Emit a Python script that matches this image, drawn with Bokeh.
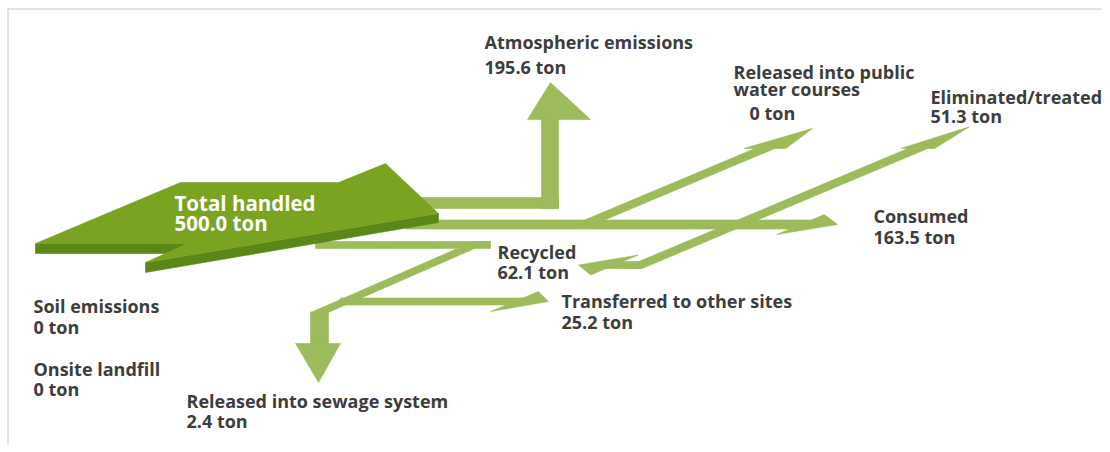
import math
from bokeh.plotting import figure
from bokeh.models import Range1d
from bokeh.core.properties import value
from bokeh.embed import file_html
from bokeh.resources import INLINE

# ---------------- data ----------------
total_name = "Total handled"
total_ton = 500.0
flow_names = ["Atmospheric emissions", "Released into public water courses",
              "Eliminated/treated", "Consumed", "Recycled",
              "Transferred to other sites", "Released into sewage system",
              "Soil emissions", "Onsite landfill"]
flow_tons = [195.6, 0.0, 51.3, 163.5, 62.1, 25.2, 2.4, 0.0, 0.0]
label_lines = [["Atmospheric emissions"], ["Released into public", "water courses"],
               ["Eliminated/treated"], ["Consumed"], ["Recycled"],
               ["Transferred to other sites"], ["Released into sewage system"],
               ["Soil emissions"], ["Onsite landfill"]]


def ton_text(v):
    return "0 ton" if v == 0 else f"{v:.1f} ton"


# ---------------- layout (screen px) ----------------
K = 2.38                      # horizontal px per vertical px along the depth axis
LIGHT = "#9dbb5b"
TOP = "#7ba322"
SIDE = "#5a8717"
TXT = "#3d3d3d"
FONT = "Open Sans"

# label anchors: (x, first baseline, value x, value baseline)
label_pos = {
    "Atmospheric emissions": (484, 41, 484, 66),
    "Released into public water courses": (733, 71, 749, 112),
    "Eliminated/treated": (930, 96, 930, 115),
    "Consumed": (873, 215, 873, 236),
    "Recycled": (497, 251, 497, 271),
    "Transferred to other sites": (561, 300, 561, 321),
    "Released into sewage system": (186, 400, 186, 420),
    "Soil emissions": (33, 305, 33, 326),
    "Onsite landfill": (33, 368, 33, 388),
}
LINE_GAP = 17


def hband(x0, x1, yc, ht, s0=0.0, s1=0.0):
    return ([x0 + ht * s0, x1 + ht * s1, x1 - ht * s1, x0 - ht * s0],
            [yc - ht, yc - ht, yc + ht, yc + ht])


def hhead(xe, yc, ht, H, L, direction):
    return ([xe + ht * K, xe + H * K, xe + direction * L, xe - H * K, xe - ht * K],
            [yc - ht, yc - H, yc, yc + H, yc + ht])


def dband(p0, p1, hw):
    return ([p0[0] - hw, p1[0] - hw, p1[0] + hw, p0[0] + hw],
            [p0[1], p1[1], p1[1], p0[1]])


def dpoint(p0, y):
    return (p0[0] + (p0[1] - y) * K, y)


def dhead(pe, H, L):
    n = math.hypot(K, 1.0)
    return ([pe[0] - H, pe[0] + L * K / n, pe[0] + H],
            [pe[1], pe[1] - L / n, pe[1]])


def vband(xc, hw, y0, y1):
    return ([xc - hw, xc + hw, xc + hw, xc - hw], [y0, y0, y1, y1])


def vhead(xc, yb, left, right, L, direction, tip_dx=0.0):
    return ([xc - left, xc + tip_dx, xc + right], [yb, yb + direction * L, yb])


shapes = []  # (xs, ys, color)

# Atmospheric emissions: L-shaped up arrow
shapes.append(hband(400, 558, 202.5, 5.5) + (LIGHT,))
shapes.append(vband(549.5, 8.5, 208, 118.5) + (LIGHT,))
shapes.append(vhead(549.5, 119, 22.5, 40.5, 37, -1, 0.5) + (LIGHT,))

# Consumed: long horizontal arrow
shapes.append(hband(405, 800, 224, 4.5, 0, K) + (LIGHT,))
shapes.append(hhead(800, 224, 4.5, 10, 37, +1) + (LIGHT,))

# Public water courses: branch off consumed
pw0 = dpoint((593, 220), 224)
pw1 = dpoint((593, 220), 148)
shapes.append(dband(pw0, pw1, 10) + (LIGHT,))
shapes.append(dhead(pw1, 21, 52) + (LIGHT,))

# Eliminated / Recycled diagonal crossing consumed
el0 = dpoint((640, 264.5), 268)
el1 = dpoint((640, 264.5), 148)
shapes.append(dband(el0, el1, 10) + (LIGHT,))
shapes.append(dhead(el1, 17, 56) + (LIGHT,))
shapes.append(hband(614, el0[0] + 10, 264.5, 3.5, K, 0) + (LIGHT,))
shapes.append(hhead(614, 264.5, 3.5, 10, 36, -1) + (LIGHT,))

# Z-shape: transferred + sewage
shapes.append(hband(315, 490, 244.5, 3.5) + (LIGHT,))
z0 = (319, 312)
z1 = (481.5, 241)
shapes.append(dband(z0, z1, 8.75) + (LIGHT,))
shapes.append(hband(340, 514, 301, 3.5, 0, K) + (LIGHT,))
shapes.append(hhead(514, 301, 3.5, 10, 34, +1) + (LIGHT,))
shapes.append(vband(319, 9, 311.5, 343.5) + (LIGHT,))
shapes.append(vhead(319, 343, 24, 21, 39, +1, -1) + (LIGHT,))

# Total handled big 3D arrow: side faces then top face
shapes.append(([35, 187, 187, 35], [243, 243, 253, 253], SIDE))
shapes.append(([145, 438, 438, 145], [262, 213, 222, 272], SIDE))
shapes.append(([35, 180, 338, 385, 438, 145, 187], [243, 182, 182, 163, 213, 262, 243], TOP))

p = figure(width=1102, height=444, x_range=Range1d(0, 1102), y_range=Range1d(444, 0),
           min_border=0, toolbar_location=None, output_backend="svg",
           x_axis_location=None, y_axis_location=None)
p.grid.visible = False
p.outline_line_color = None
p.background_fill_color = "white"
p.border_fill_color = "white"

# frame lines (top and left)
p.segment(x0=[7, 7.5], y0=[8.5, 8], x1=[1102, 7.5], y1=[8.5, 444],
          line_color="#c8c8c8", line_width=1)

p.patches(xs=[s[0] for s in shapes], ys=[s[1] for s in shapes],
          fill_color=[s[2] for s in shapes], line_color=[s[2] for s in shapes],
          line_width=0.6)

# labels
tx, ty, tt = [], [], []
for name, lines, v in zip(flow_names, label_lines, flow_tons):
    x, y, vx, vy = label_pos[name]
    for i, ln in enumerate(lines):
        tx.append(x); ty.append(y + i * LINE_GAP); tt.append(ln)
    tx.append(vx); ty.append(vy); tt.append(ton_text(v))
p.text(x=tx, y=ty, text=tt, text_font=value(FONT), text_font_style="bold",
       text_font_size="18px", text_color=TXT, text_baseline="alphabetic", text_align="left")

p.text(x=[174, 174], y=[202, 222], text=[total_name, ton_text(total_ton)],
       text_font=value(FONT), text_font_style="bold", text_font_size="20.5px",
       text_color="white", text_baseline="alphabetic", text_align="left")

open("out.html", "w").write(file_html(p, INLINE))
